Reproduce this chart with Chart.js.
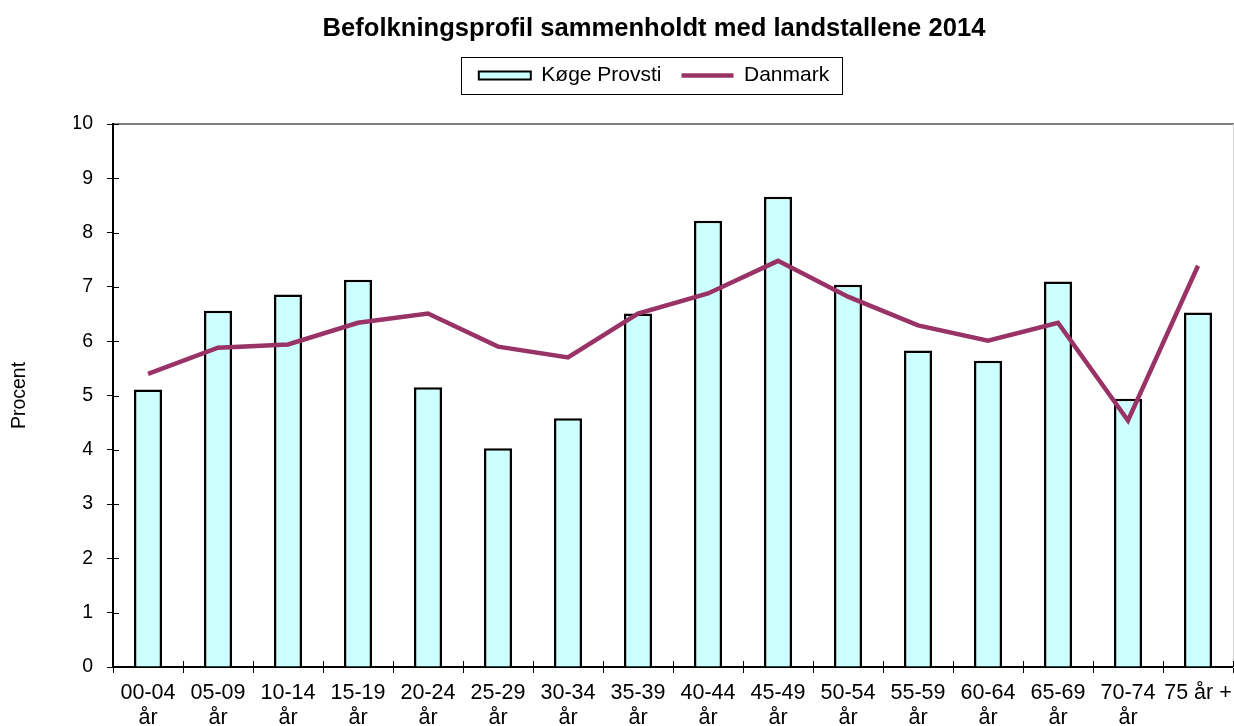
<!DOCTYPE html>
<html>
<head>
<meta charset="utf-8">
<script src="https://cdn.jsdelivr.net/npm/chart.js@4.4.1/dist/chart.umd.min.js"></script>
<style>
  html, body { margin: 0; padding: 0; background: #fff; }
  #wrap { width: 1234px; height: 726px; position: relative; }
</style>
</head>
<body>
<div id="wrap"><canvas id="chart"></canvas></div>
<script>
const ageGroups = [
  ["00-04", "år"], ["05-09", "år"], ["10-14", "år"], ["15-19", "år"],
  ["20-24", "år"], ["25-29", "år"], ["30-34", "år"], ["35-39", "år"],
  ["40-44", "år"], ["45-49", "år"], ["50-54", "år"], ["55-59", "år"],
  ["60-64", "år"], ["65-69", "år"], ["70-74", "år"], "75 år +"
];
const koegeProvsti = [5.11, 6.56, 6.86, 7.13, 5.15, 4.03, 4.58, 6.51, 8.22, 8.66, 7.04, 5.83, 5.64, 7.10, 4.94, 6.53];
const danmark = [5.40, 5.88, 5.94, 6.34, 6.51, 5.90, 5.70, 6.51, 6.88, 7.48, 6.82, 6.29, 6.01, 6.34, 4.54, 7.39];
const yTicks = [0, 1, 2, 3, 4, 5, 6, 7, 8, 9, 10];

const FONT = "'Liberation Sans', Arial, sans-serif";

// små tick-streger inde i plotområdet (krydsende ticks som i Excel)
const innerTicks = {
  id: "innerTicks",
  afterDatasetsDraw(chart) {
    const { ctx, chartArea, scales } = chart;
    ctx.save();
    ctx.strokeStyle = "#000";
    ctx.lineWidth = 1;
    ctx.beginPath();
    yTicks.forEach((v) => {
      const y = Math.round(scales.y.getPixelForValue(v)) + 0.5;
      ctx.moveTo(chartArea.left, y);
      ctx.lineTo(chartArea.left + 6, y);
    });
    for (let i = 0; i <= ageGroups.length; i++) {
      const x = Math.round(scales.x.getPixelForValue(i - 0.5)) + 0.5;
      ctx.moveTo(x, chartArea.bottom);
      ctx.lineTo(x, chartArea.bottom - 6);
    }
    ctx.stroke();
    ctx.restore();
  }
};

// ramme om legenden
const legendFrame = {
  id: "legendFrame",
  afterDraw(chart) {
    const boxes = chart.legend.legendHitBoxes;
    if (!boxes || !boxes.length) return;
    const left = Math.min(...boxes.map((b) => b.left));
    const right = Math.max(...boxes.map((b) => b.left + b.width));
    const top = boxes[0].top;
    const { ctx } = chart;
    ctx.save();
    ctx.strokeStyle = "#000";
    ctx.lineWidth = 1;
    ctx.strokeRect(Math.round(left - 18) + 0.5, Math.round(top - 8) + 0.5,
      Math.round(right - left + 31), 37);
    ctx.restore();
  }
};

new Chart(document.getElementById("chart"), {
  data: {
    labels: ageGroups,
    datasets: [
      {
        type: "bar",
        label: "Køge Provsti",
        data: koegeProvsti,
        backgroundColor: "#CCFFFF",
        borderColor: "#000000",
        borderWidth: 2.5,
        categoryPercentage: 1,
        barPercentage: 0.4,
        xAxisID: "x",
        yAxisID: "y",
        order: 1
      },
      {
        type: "line",
        label: "Danmark",
        data: danmark,
        borderColor: "#993366",
        backgroundColor: "#993366",
        borderWidth: 4.5,
        pointRadius: 0,
        tension: 0,
        xAxisID: "x",
        yAxisID: "y",
        order: 0
      }
    ]
  },
  options: {
    responsive: true,
    maintainAspectRatio: false,
    animation: false,
    layout: { padding: { left: 74, right: 0, top: 0, bottom: 0 } },
    plugins: {
      tooltip: { enabled: false },
      title: {
        display: true,
        text: "Befolkningsprofil sammenholdt med landstallene 2014",
        color: "#000",
        font: { family: FONT, size: 25.6, weight: "bold", lineHeight: "30px" },
        padding: { top: 14, bottom: 1 }
      },
      legend: {
        display: true,
        position: "top",
        labels: {
          color: "#000",
          font: { family: FONT, size: 21 },
          padding: 20,
          usePointStyle: true,
          pointStyleWidth: 52,
          boxHeight: 8,
          generateLabels: (chart) =>
            chart.data.datasets.map((ds, i) => ({
              text: ds.label,
              datasetIndex: i,
              fillStyle: ds.backgroundColor,
              strokeStyle: ds.borderColor,
              lineWidth: i === 0 ? 2 : 4.5,
              pointStyle: i === 0 ? "rect" : "line",
              fontColor: "#000",
              hidden: false
            }))
        }
      }
    },
    scales: {
      x: {
        type: "category",
        position: "bottom",
        offset: true,
        grid: {
          display: true,
          drawOnChartArea: false,
          offset: true,
          tickLength: 6,
          color: "#000"
        },
        border: { display: true, color: "#000", width: 2 },
        ticks: {
          color: "#000",
          font: { family: FONT, size: 21.5, lineHeight: "25px" },
          padding: 8,
          maxRotation: 0,
          autoSkip: false
        },
        afterFit: (s) => {
          s.height = 59;
          s.paddingLeft = 0;
          s.paddingRight = 0;
        }
      },
      x2: {
        type: "category",
        position: "top",
        grid: { display: false },
        ticks: { display: false },
        border: { display: true, color: "#808080", width: 2 },
        afterFit: (s) => { s.height = 28; }
      },
      y: {
        type: "linear",
        position: "left",
        min: 0,
        max: 10,
        afterBuildTicks: (s) => { s.ticks = yTicks.map((v) => ({ value: v })); },
        grid: {
          display: true,
          drawOnChartArea: false,
          tickLength: 6,
          color: "#000"
        },
        border: { display: true, color: "#000", width: 2 },
        ticks: {
          color: "#000",
          font: { family: FONT, size: 19.5 },
          padding: 14
        },
        title: {
          display: true,
          text: "Procent",
          color: "#000",
          font: { family: FONT, size: 19.5, lineHeight: 1.2 },
          padding: { top: -66, bottom: 0 }
        },
        afterFit: (s) => { s.width = 39; }
      },
      y2: {
        type: "linear",
        position: "right",
        min: 0,
        max: 10,
        grid: { display: false },
        ticks: { display: false },
        border: { display: true, color: "#d4d4d4", width: 1 },
        afterFit: (s) => { s.width = 1; }
      }
    }
  },
  plugins: [innerTicks, legendFrame]
});
</script>
</body>
</html>
